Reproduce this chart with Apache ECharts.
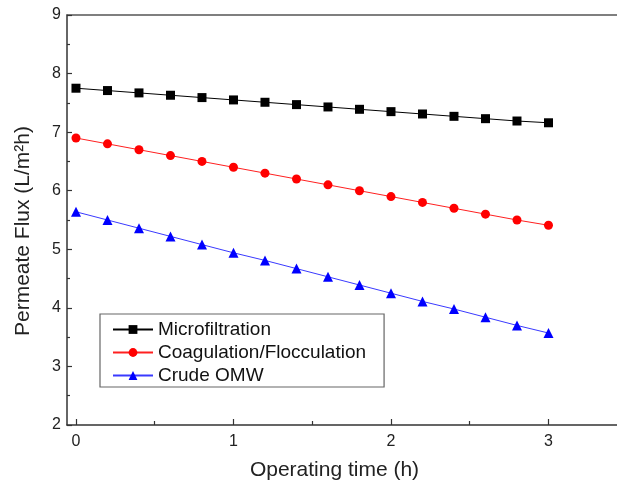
<!DOCTYPE html>
<html>
<head>
<meta charset="utf-8">
<script src="https://cdn.jsdelivr.net/npm/echarts@6/dist/echarts.min.js"></script>
<style>html,body{margin:0;padding:0;background:#fff}#c{width:617px;height:486px}</style>
</head>
<body>
<div id="c"></div>
<script>
const times = [0, 0.2, 0.4, 0.6, 0.8, 1.0, 1.2, 1.4, 1.6, 1.8, 2.0, 2.2, 2.4, 2.6, 2.8, 3.0];
const microfiltration = [7.75, 7.71, 7.67, 7.63, 7.59, 7.55, 7.51, 7.47, 7.43, 7.39, 7.35, 7.31, 7.27, 7.23, 7.19, 7.16];
const coagulation = [6.90, 6.80, 6.70, 6.60, 6.50, 6.40, 6.30, 6.20, 6.10, 6.00, 5.90, 5.80, 5.70, 5.60, 5.50, 5.41];
const crudeOMW = [5.64, 5.50, 5.36, 5.22, 5.08, 4.94, 4.81, 4.67, 4.53, 4.39, 4.25, 4.11, 3.98, 3.84, 3.70, 3.57];
const xMajorTicks = [0, 1, 2, 3];
const xMinorTicks = [0.5, 1.5, 2.5];
const seriesNames = ['Microfiltration', 'Coagulation/Flocculation', 'Crude OMW'];

const pair = (ys) => times.map((t, i) => [t, ys[i]]);
const font = 'Arial, "Liberation Sans", sans-serif';
const axisColor = '#333';
const X_MIN = -0.057, X_MAX = 3.435;

const chart = echarts.init(document.getElementById('c'), null, {renderer: 'canvas'});
chart.setOption({
  animation: false,
  backgroundColor: '#fff',
  grid: {left: 67, right: 0, top: 15, bottom: 59, show: false, containLabel: false},
  legend: {
    orient: 'vertical', left: 100, top: 314,
    data: seriesNames,
    itemWidth: 40, itemHeight: 11, itemGap: 4,
    padding: [6, 18, 2, 12],
    borderColor: '#666', borderWidth: 1.2,
    textStyle: {fontFamily: font, fontSize: 19, color: '#111'}
  },
  xAxis: [{
    type: 'value', min: X_MIN, max: X_MAX, position: 'bottom',
    name: 'Operating time (h)', nameLocation: 'middle', nameGap: 35,
    nameTextStyle: {fontFamily: font, fontSize: 21, color: '#222', padding: [0, 15, 0, 0]},
    axisLine: {show: true, onZero: false, lineStyle: {color: axisColor, width: 1.5}},
    axisTick: {show: true, inside: true, length: 6, customValues: xMajorTicks, lineStyle: {color: axisColor, width: 1.2}},
    axisLabel: {customValues: xMajorTicks, fontFamily: font, fontSize: 16, color: '#222', margin: 9},
    splitLine: {show: false}
  }, {
    type: 'value', min: X_MIN, max: X_MAX, position: 'bottom',
    axisLine: {show: false},
    axisTick: {show: true, inside: true, length: 4, customValues: xMinorTicks, lineStyle: {color: axisColor, width: 1.2}},
    axisLabel: {show: false},
    splitLine: {show: false}
  }, {
    type: 'value', min: X_MIN, max: X_MAX, position: 'top',
    axisLine: {show: true, onZero: false, lineStyle: {color: '#555', width: 1.5}},
    axisTick: {show: false},
    axisLabel: {show: false},
    splitLine: {show: false}
  }],
  yAxis: {
    type: 'value', min: 2, max: 9, interval: 1,
    name: 'Permeate Flux (L/m²h)', nameLocation: 'middle', nameGap: 33,
    nameTextStyle: {fontFamily: font, fontSize: 21, color: '#222', padding: [0, 22, 0, 0]},
    axisLine: {show: true, onZero: false, lineStyle: {color: axisColor, width: 1.5}},
    axisTick: {show: true, inside: true, length: 5, lineStyle: {color: axisColor, width: 1.2}},
    minorTick: {show: true, splitNumber: 2, length: 3, lineStyle: {color: axisColor, width: 1.2}},
    axisLabel: {fontFamily: font, fontSize: 16, color: '#222', margin: 6},
    splitLine: {show: false}
  },
  series: [
    {name: seriesNames[0], type: 'line', data: pair(microfiltration), symbol: 'rect', symbolSize: 9,
     lineStyle: {color: '#000', width: 1}, itemStyle: {color: '#000'}},
    {name: seriesNames[1], type: 'line', data: pair(coagulation), symbol: 'circle', symbolSize: 9,
     lineStyle: {color: '#ff2020', width: 1}, itemStyle: {color: '#ff0000'}},
    {name: seriesNames[2], type: 'line', data: pair(crudeOMW), symbol: 'triangle', symbolSize: 10,
     lineStyle: {color: '#3a3aff', width: 1}, itemStyle: {color: '#0000ff'}}
  ]
});
</script>
</body>
</html>
